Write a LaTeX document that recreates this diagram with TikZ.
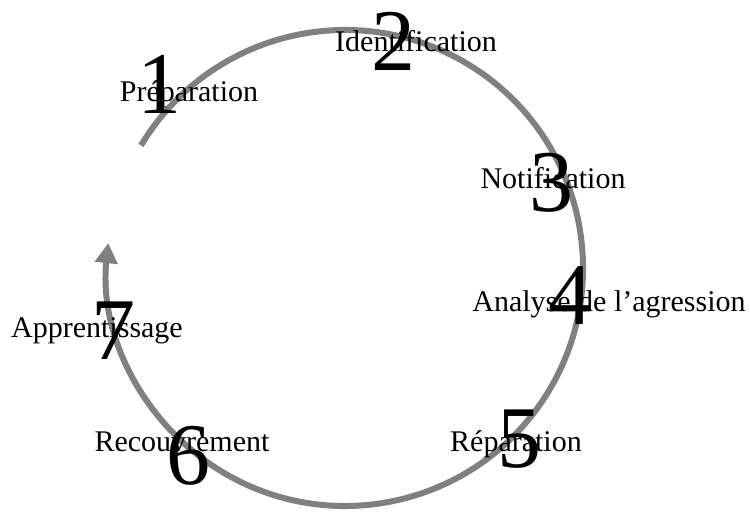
\documentclass[tikz,border=0pt]{standalone}
\usepackage{fontspec}
\setmainfont{Liberation Serif}
\usetikzlibrary{arrows.meta}

\tikzset{
  cyclearrow/.style={draw=gray, line width=6pt,
    -{Triangle[width=22pt,length=20pt]}},
  steplabel/.style={anchor=base, inner sep=0pt, text=black,
    font=\fontsize{30}{36}\selectfont},
  stepnum/.style={anchor=base, inner sep=0pt, text=black,
    font=\fontsize{88}{90}\selectfont},
}

\begin{document}
\begin{tikzpicture}[x=1pt,y=1pt]
  \useasboundingbox (0,0) rectangle (750,521);

  % the cycle: a clockwise arc ending in an arrow head
  \coordinate (c) at (345,253);
  \draw[cyclearrow] ([shift={(149:238)}]c)
    arc[start angle=149, end angle=-186, radius=238];

  % stage names
  \node[steplabel] (l1) at (189,419) {Préparation};
  \node[steplabel] (l2) at (416,469) {Identification};
  \node[steplabel] (l3) at (553,332) {Notification};
  \node[steplabel] (l4) at (609,209) {Analyse de l’agression};
  \node[steplabel] (l5) at (516,69)  {Réparation};
  \node[steplabel] (l6) at (182,69)  {Recouvrement};
  \node[steplabel] (l7) at (97,183)  {Apprentissage};

  % stage numbers, drawn over the names
  \node[stepnum] (n1) at (159,407) {1};
  \node[stepnum] (n2) at (393,450) {2};
  \node[stepnum] (n3) at (551,309) {3};
  \node[stepnum] (n4) at (570,196) {4};
  \node[stepnum] (n5) at (519,53)  {5};
  \node[stepnum] (n6) at (188,36)  {6};
  \node[stepnum] (n7) at (113,161) {7};
\end{tikzpicture}
\end{document}
